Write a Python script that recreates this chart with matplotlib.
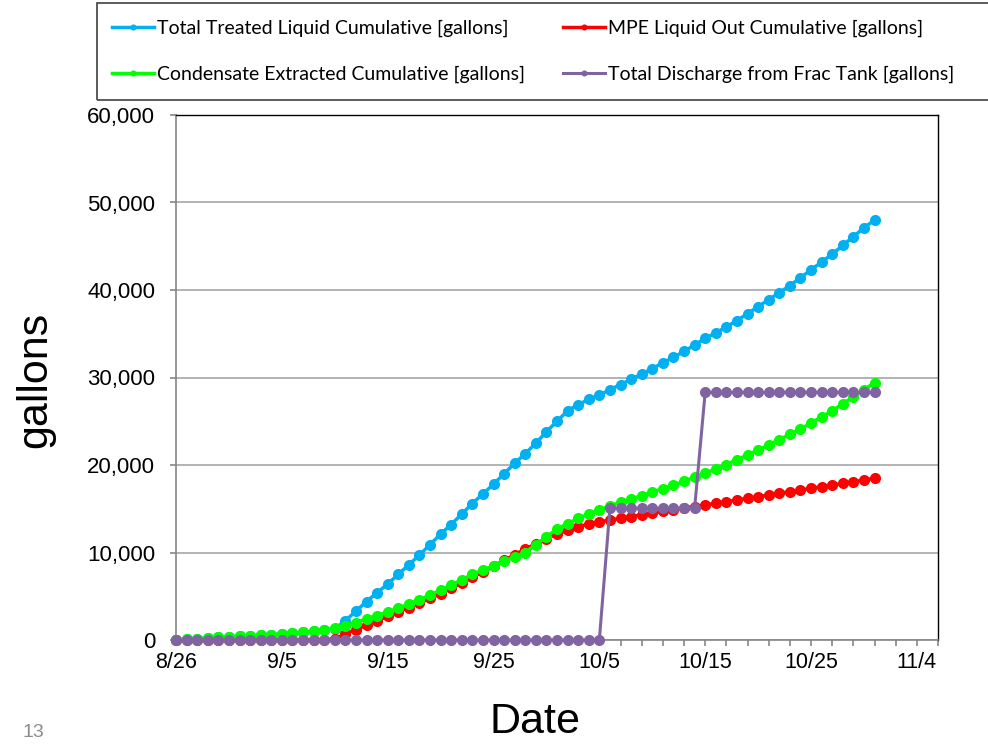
import matplotlib
matplotlib.use("Agg")
import matplotlib.pyplot as plt
import matplotlib.dates as mdates
from matplotlib.patches import Rectangle
from matplotlib.ticker import FuncFormatter, MultipleLocator
import pandas as pd

# Daily readings, 8/26 through 10/31
dates = pd.date_range("2013-08-26", "2013-10-31", freq="D")

total_treated = [
    0, 80, 160, 230, 300, 360, 420, 480, 540, 600,
    680, 760, 860, 980, 1150, 1300, 2200, 3300, 4400, 5400,
    6400, 7500, 8600, 9700, 10900, 12100, 13200, 14400, 15600, 16700,
    17800, 19000, 20200, 21300, 22500, 23800, 25000, 26200, 26900, 27500,
    28000, 28600, 29200, 29800, 30400, 31000, 31700, 32300, 33000, 33700,
    34500, 35100, 35800, 36500, 37300, 38100, 38900, 39700, 40500, 41400,
    42300, 43200, 44100, 45100, 46100, 47100, 48000,
]

mpe_liquid_out = [
    0, 0, 0, 0, 0, 0, 0, 0, 0, 0,
    0, 0, 0, 0, 0, 150, 700, 1200, 1700, 2200,
    2700, 3200, 3700, 4200, 4750, 5300, 5900, 6500, 7150, 7800,
    8450, 9100, 9750, 10400, 11000, 11600, 12100, 12550, 12950, 13250,
    13500, 13700, 13900, 14100, 14300, 14500, 14700, 14900, 15100, 15250,
    15430, 15620, 15810, 16000, 16190, 16380, 16570, 16760, 16950, 17140,
    17330, 17520, 17710, 17900, 18090, 18280, 18480,
]

condensate = [
    0, 80, 160, 230, 300, 360, 420, 480, 540, 600,
    680, 760, 860, 980, 1120, 1350, 1650, 2000, 2400, 2800,
    3200, 3650, 4100, 4600, 5150, 5700, 6300, 6900, 7500, 8000,
    8500, 9000, 9500, 10000, 10900, 11800, 12700, 13300, 13900, 14400,
    14900, 15300, 15750, 16100, 16500, 16900, 17300, 17700, 18150, 18600,
    19050, 19550, 20050, 20600, 21150, 21700, 22300, 22900, 23500, 24100,
    24800, 25500, 26200, 27000, 27800, 28600, 29400,
]

frac_tank_discharge = [0] * 41 + [15050] * 9 + [28300] * 17

series = [
    ("Total Treated Liquid Cumulative [gallons]", total_treated, "#00B0F0"),
    ("MPE Liquid Out Cumulative [gallons]", mpe_liquid_out, "#FF0000"),
    ("Condensate Extracted Cumulative [gallons]", condensate, "#00FF00"),
    ("Total Discharge from Frac Tank [gallons]", frac_tank_discharge, "#8064A2"),
]

W, H = 988, 744
fig = plt.figure(figsize=(W / 100, H / 100), dpi=100)
ax = fig.add_axes([176 / W, 1 - 640 / H, (938 - 176) / W, (640 - 115) / H])

handles = {}
for name, values, color in series:
    lw = 2.2 if color == "#8064A2" else 2.5
    (ln,) = ax.plot(dates, values, color=color, lw=lw, marker="o",
                    markersize=8, markeredgewidth=0, clip_on=False, zorder=3)
    handles[name] = ln

ax.set_ylim(0, 60000)
ax.set_xlim(pd.Timestamp("2013-08-26"), pd.Timestamp("2013-11-06"))
ax.yaxis.set_major_locator(MultipleLocator(10000))
ax.yaxis.set_major_formatter(FuncFormatter(lambda v, p: f"{int(v):,}"))

major_days = pd.date_range("2013-08-26", "2013-11-04", freq="10D")
ax.set_xticks(mdates.date2num(pd.date_range("2013-08-26", "2013-11-06", freq="2D")), minor=True)
ax.set_xticks(mdates.date2num(major_days))
ax.set_xticklabels([f"{d.month}/{d.day}" for d in major_days])

ax.grid(axis="y", color="#A6A6A6", lw=1.2)
ax.set_axisbelow(True)
for side in ("left", "bottom"):
    ax.spines[side].set_color("#868686")
    ax.spines[side].set_linewidth(1.2)
for side in ("top", "right"):
    ax.spines[side].set_color("#000000")
    ax.spines[side].set_linewidth(1.0)

ax.tick_params(axis="both", which="both", colors="#868686", length=4, width=1.2)
ax.tick_params(axis="y", pad=11, labelcolor="black", labelsize=16)
ax.tick_params(axis="x", pad=5, labelcolor="black", labelsize=15.5)
ax.tick_params(axis="x", which="minor", length=4)
for lbl in ax.get_xticklabels() + ax.get_yticklabels():
    lbl.set_family("Liberation Sans")

fig.text(35 / W, 1 - 380 / H, "gallons", family="Liberation Sans", fontsize=31,
         rotation=90, ha="center", va="center")
fig.text(535 / W, 1 - 722 / H, "Date", family="Liberation Sans", fontsize=31,
         ha="center", va="center")

# Legend box across the top
fig.add_artist(Rectangle((97 / W, 1 - 100 / H), 1.0, 97 / H, transform=fig.transFigure,
                         fill=False, edgecolor="#404040", lw=1.2, clip_on=False))
order = [series[0][0], series[2][0], series[1][0], series[3][0]]
fig.legend([handles[n] for n in order], order, ncol=2, loc="upper left",
           bbox_to_anchor=(98 / W, 1 - 6 / H), frameon=False,
           prop={"family": "Lato", "size": 14}, handlelength=2.2,
           handletextpad=0.12, columnspacing=1.95, labelspacing=1.5,
           markerscale=0.55, borderpad=0.2)

# Slide page number
fig.text(22 / W, 3 / H, "13", color="#8C8C8C", fontsize=14,
         family="Liberation Sans", va="bottom", ha="left")

fig.savefig("out.png", dpi=100)
